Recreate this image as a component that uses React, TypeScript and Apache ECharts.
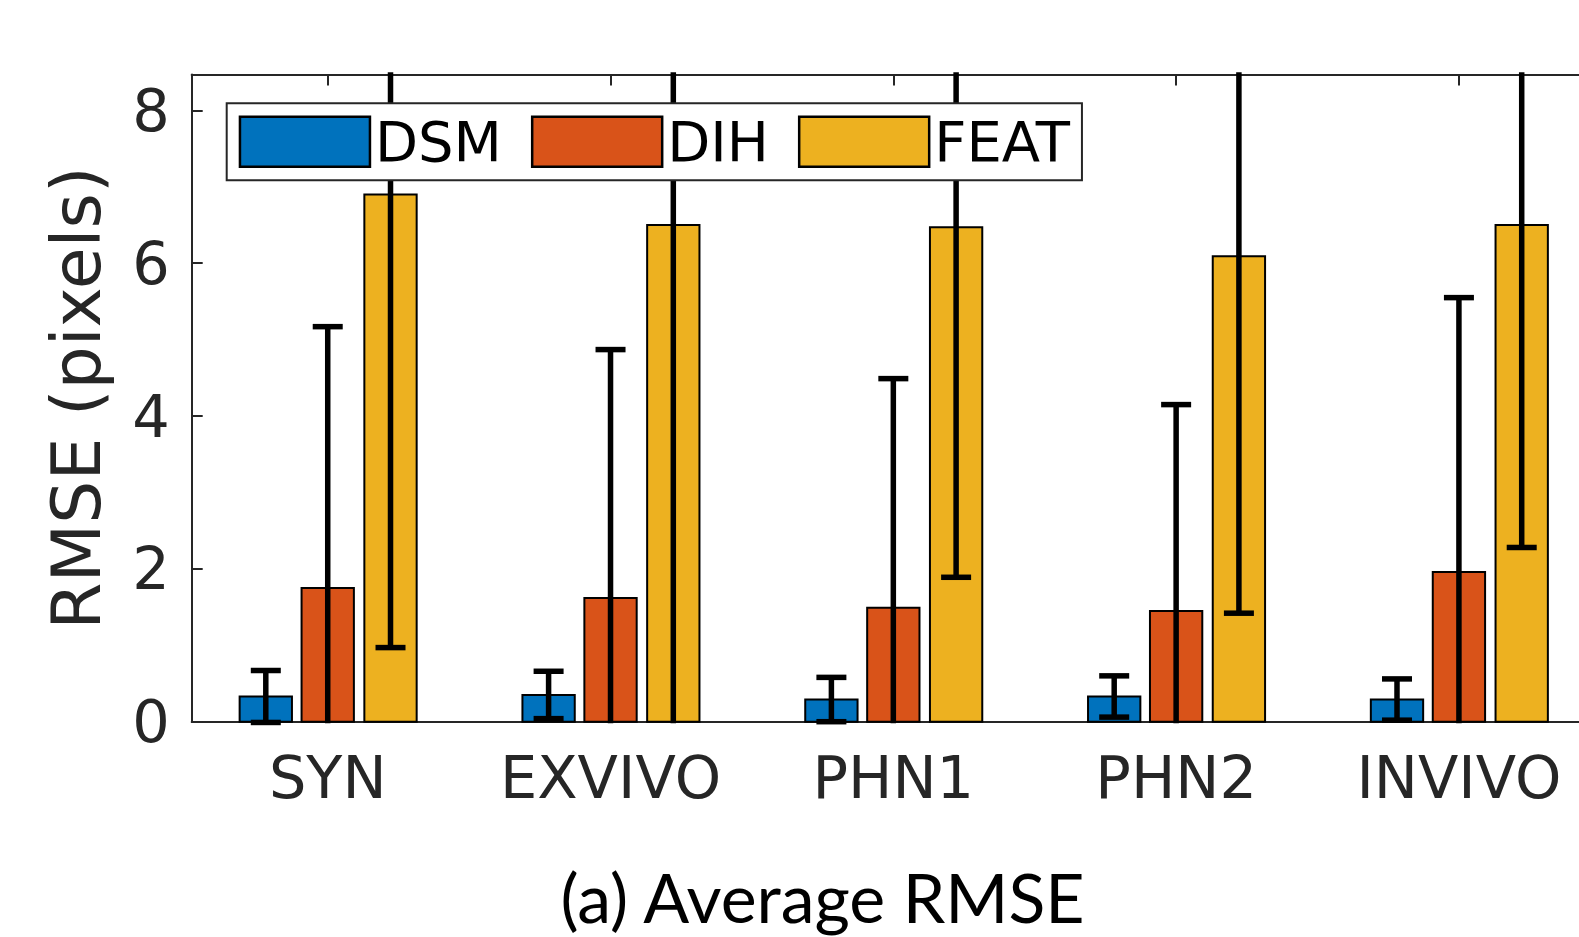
import React, { useEffect, useRef } from 'react';
import * as echarts from 'echarts';

const categories = ['SYN', 'EXVIVO', 'PHN1', 'PHN2', 'INVIVO'];
const seriesNames = ['DSM', 'DIH', 'FEAT'];
const dsmMean = [0.33, 0.35, 0.29, 0.33, 0.29];
const dsmErr = [0.34, 0.31, 0.29, 0.27, 0.27];
const dihMean = [1.75, 1.62, 1.49, 1.45, 1.96];
const dihErr = [3.42, 3.25, 3.0, 2.7, 3.59];
const featMean = [6.9, 6.5, 6.47, 6.09, 6.5];
const featErr = [5.93, 6.8, 4.58, 4.67, 4.22];
const yTicks = [0, 2, 4, 6, 8];
const titleText = '(a) Average RMSE';
const yName = 'RMSE (pixels)';

const COLORS = ['#0072BD', '#D95319', '#EDB120'];
const OFFSETS = [-0.219, 0, 0.222];
const BAR_FRAC = 0.185;
const Y_MAX = 8.47;
const AXIS_COLOR = '#262626';
const FONT = 'DejaVu Sans';
const X_MIN = 0.519;
const UNIT_PX = 282.8;
const GRID_W = 1437;

export default function App() {
  const ref = useRef<HTMLDivElement>(null);
  useEffect(() => {
    if (!ref.current) return;
    const chart = echarts.init(ref.current, null, { renderer: 'svg' });
    const means = [dsmMean, dihMean, featMean];
    const errs = [dsmErr, dihErr, featErr];
    const catTicks = categories.map((_, i) => i + 1);

    const barSeries = seriesNames.map((name, k) => ({
      name,
      type: 'custom',
      z: 2,
      itemStyle: { color: COLORS[k], borderColor: '#000', borderWidth: 2 },
      data: categories.map((_, i) => [i + 1, means[k][i], errs[k][i]]),
      renderItem: (params: any, api: any) => {
        const xi = api.value(0);
        const v = api.value(1);
        const base = api.coord([xi, 0]);
        const top = api.coord([xi, v]);
        const unit = api.size([1, 0])[0];
        const w = unit * BAR_FRAC;
        const cx = base[0] + OFFSETS[k] * unit;
        return {
          type: 'rect',
          shape: { x: cx - w / 2, y: top[1], width: w, height: base[1] - top[1] },
          style: { fill: COLORS[k], stroke: '#000', lineWidth: 2 },
        };
      },
    }));

    const errSeries = seriesNames.map((name, k) => ({
      name: name + ' error',
      type: 'custom',
      z: 3,
      data: categories.map((_, i) => [i + 1, means[k][i], errs[k][i]]),
      renderItem: (params: any, api: any) => {
        const xi = api.value(0);
        const v = api.value(1);
        const e = api.value(2);
        const lo = v - e;
        const hi = v + e;
        const unit = api.size([1, 0])[0];
        const cx = api.coord([xi, 0])[0] + OFFSETS[k] * unit;
        const yLo = api.coord([xi, Math.max(lo, -0.02)])[1];
        const yHi = api.coord([xi, Math.min(hi, Y_MAX + 0.03)])[1];
        const capHalf = 15;
        const style = { stroke: '#000', lineWidth: 5.5 };
        const children: any[] = [
          { type: 'line', shape: { x1: cx, y1: yLo, x2: cx, y2: yHi }, style },
        ];
        if (lo >= -0.06) {
          const y = api.coord([xi, lo])[1];
          children.push({ type: 'line', shape: { x1: cx - capHalf, y1: y, x2: cx + capHalf, y2: y }, style });
        }
        if (hi <= Y_MAX) {
          const y = api.coord([xi, hi])[1];
          children.push({ type: 'line', shape: { x1: cx - capHalf, y1: y, x2: cx + capHalf, y2: y }, style });
        }
        return { type: 'group', children };
      },
    }));

    const xCommon = {
      type: 'value',
      min: X_MIN,
      max: X_MIN + GRID_W / UNIT_PX,
      splitLine: { show: false },
      axisLine: { show: true, lineStyle: { color: AXIS_COLOR, width: 2 } },
      axisTick: { show: true, inside: true, length: 11, customValues: catTicks, lineStyle: { color: AXIS_COLOR, width: 2 } },
    };

    chart.setOption({
      animation: false,
      backgroundColor: '#fff',
      grid: {
        left: 191.7,
        top: 74.5,
        width: GRID_W,
        height: 647.2,
        containLabel: false,
        outerBoundsMode: 'none',
      },
      legend: {
        left: 226.7,
        top: 103.3,
        orient: 'horizontal',
        padding: [10.5, 12, 10.5, 12],
        itemWidth: 130,
        itemHeight: 50,
        itemGap: 29,
        backgroundColor: '#fff',
        borderColor: AXIS_COLOR,
        borderWidth: 2,
        z: 10,
        selectedMode: false,
        textStyle: { fontFamily: FONT, fontSize: 56, color: '#000' },
        data: seriesNames.map((n, k) => ({
          name: n,
          icon: 'rect',
          itemStyle: { color: COLORS[k], borderColor: '#000', borderWidth: 2.5 },
        })),
      },
      xAxis: [
        {
          ...xCommon,
          position: 'bottom',
          axisLabel: {
            customValues: catTicks,
            margin: 26,
            fontFamily: FONT,
            fontSize: 59,
            color: AXIS_COLOR,
            formatter: (v: number) => categories[Math.round(v) - 1] ?? '',
          },
        },
        {
          ...xCommon,
          position: 'top',
          axisLabel: { show: false },
        },
      ],
      yAxis: {
        type: 'value',
        min: 0,
        max: Y_MAX,
        name: yName,
        nameLocation: 'middle',
        nameGap: 81,
        nameTextStyle: { fontFamily: FONT, fontSize: 68, color: AXIS_COLOR },
        splitLine: { show: false },
        axisLine: { show: true, lineStyle: { color: AXIS_COLOR, width: 2 } },
        axisTick: { show: true, inside: true, length: 11, customValues: yTicks, lineStyle: { color: AXIS_COLOR, width: 2 } },
        axisLabel: { customValues: yTicks, margin: 22, fontFamily: FONT, fontSize: 59, color: AXIS_COLOR },
      },
      graphic: [
        {
          type: 'text',
          x: 822.5,
          y: 862,
          style: {
            text: titleText,
            fontFamily: 'Lato',
            fontSize: 68,
            fill: '#000',
            align: 'center',
            verticalAlign: 'top',
          },
        },
      ],
      series: [...barSeries, ...errSeries],
    });
    return () => chart.dispose();
  }, []);
  return (
    <div
      ref={ref}
      style={{ position: 'fixed', left: 0, top: 0, width: 1579, height: 937, background: '#fff' }}
    />
  );
}
